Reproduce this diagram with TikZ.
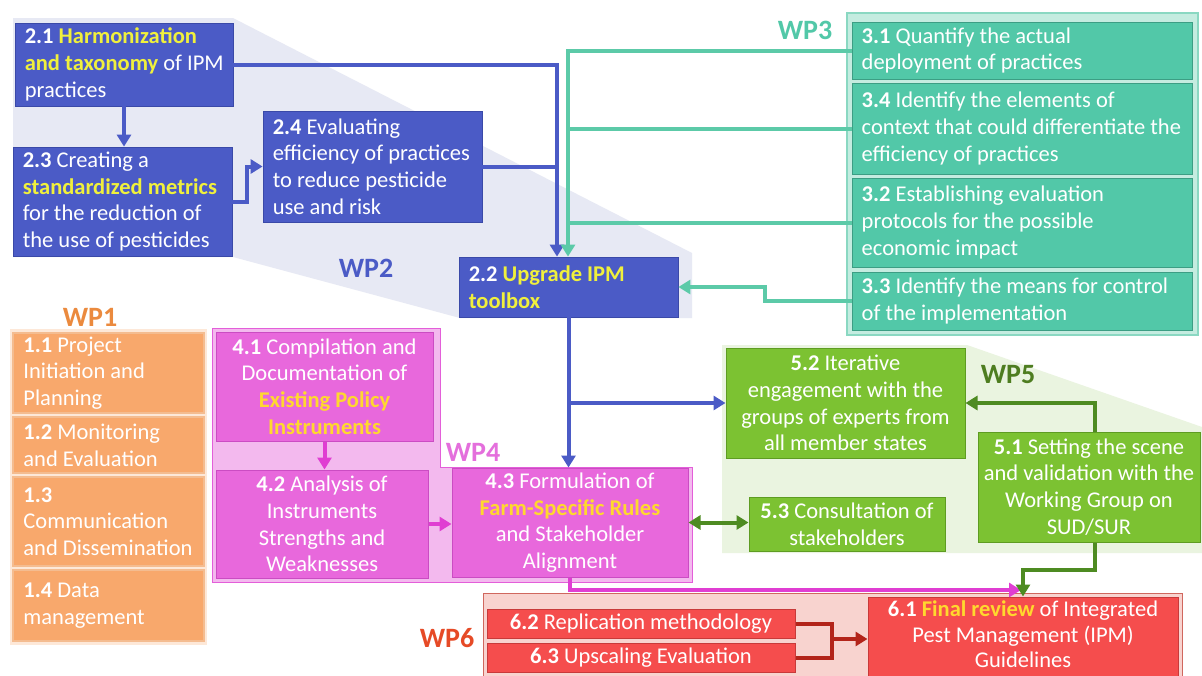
\documentclass[tikz,border=0pt]{standalone}
\usepackage{fontspec}
\setmainfont{Carlito}
\usetikzlibrary{arrows.meta,fit}
\definecolor{cBlue}{HTML}{4B5BC6}
\definecolor{cBlueD}{HTML}{3A49A8}
\definecolor{cBlueShade}{HTML}{E7E9F4}
\definecolor{cYel}{HTML}{F0F03C}
\definecolor{cYelO}{HTML}{FFD82E}
\definecolor{cTeal}{HTML}{52C8A8}
\definecolor{cTealD}{HTML}{3C9E84}
\definecolor{cTealL}{HTML}{C4ECE0}
\definecolor{cTealB}{HTML}{8AD8C2}
\definecolor{cTealLine}{HTML}{5CCAA8}
\definecolor{cOr}{HTML}{F8A86C}
\definecolor{cOrB}{HTML}{F4BC90}
\definecolor{cOrL}{HTML}{FDE8D8}
\definecolor{cOrT}{HTML}{EB8A3E}
\definecolor{cMag}{HTML}{E868DC}
\definecolor{cMagD}{HTML}{CB4CC3}
\definecolor{cMagL}{HTML}{F3B9EE}
\definecolor{cMagB}{HTML}{E35ED9}
\definecolor{cMagLine}{HTML}{E03ED2}
\definecolor{cMagT}{HTML}{E46FDC}
\definecolor{cGr}{HTML}{7CC232}
\definecolor{cGrD}{HTML}{5E9C22}
\definecolor{cGrL}{HTML}{EAF4E0}
\definecolor{cDG}{HTML}{4E8B22}
\definecolor{cWPfive}{HTML}{4E7D20}
\definecolor{cRed}{HTML}{F54D4D}
\definecolor{cRedD}{HTML}{C83A3A}
\definecolor{cRedL}{HTML}{F8D3CF}
\definecolor{cRedB}{HTML}{D0675E}
\definecolor{cDR}{HTML}{B3241A}
\definecolor{cWPsix}{HTML}{E64A26}
\newcommand\hly[1]{\textbf{\color{cYel}#1}}
\newcommand\hlo[1]{\textbf{\color{cYelO}#1}}
\begin{document}
\begin{tikzpicture}[x=1pt,y=-1pt,
  bluebox/.style={fill=cBlue, draw=cBlueD, line width=0.8pt},
  tealbox/.style={fill=cTeal, draw=cTealD, line width=1pt},
  orbox/.style={fill=cOr, draw=cOrB, line width=1.5pt},
  magbox/.style={fill=cMag, draw=cMagD, line width=1pt},
  grbox/.style={fill=cGr, draw=cGrD, line width=1pt},
  redbox/.style={fill=cRed, draw=cRedD, line width=1pt},
  txt/.style={text=white, font=\fontsize{22.5}{26.7}\selectfont, inner sep=0pt},
  ltxt/.style={txt, anchor=west, align=left},
  ctxt/.style={txt, align=center},
  wp/.style={font=\fontsize{28}{30}\selectfont\bfseries, inner sep=0pt},
  conn/.style={line width=4pt},
  arr/.style={-{Triangle[width=14pt,length=12pt]}},
  darr/.style={{Triangle[width=14pt,length=12pt]}-{Triangle[width=14pt,length=12pt]}}
]
\useasboundingbox[fill=white] (0,0) rectangle (1202,675);

% ---------- background regions ----------
\fill[cBlueShade] (13,18) -- (233,18) -- (692,253) -- (692,318) -- (460,318) -- (233,257) -- (13,257) -- cycle;
\filldraw[fill=cTealL, draw=cTealB, line width=1.2pt] (847,13) rectangle (1198,335);
\fill[cOrL] (10,329) rectangle (207,645);
\filldraw[fill=cMagL, draw=cMagB, line width=1pt] (212,328) -- (440,328) -- (440,467) -- (692,467) -- (692,582) -- (212,582) -- cycle;
\fill[cGrL] (722,345) -- (967,345) -- (1202,427) -- (1202,553) -- (722,553) -- cycle;
\filldraw[fill=cRedL, draw=cRedB, line width=1pt] (483,593) rectangle (1182,680);

% ---------- WP labels ----------
\node[wp, text=cBlue] (wp2) at (366,268) {WP2};
\node[wp, text=cTeal] (wp3) at (805,30) {WP3};
\node[wp, text=cOrT] (wp1) at (90,317) {WP1};
\node[wp, text=cMagT] (wp4) at (473,452) {WP4};
\node[wp, text=cWPfive] (wp5) at (1008,375) {WP5};
\node[wp, text=cWPsix] (wp6) at (447,638) {WP6};

% ---------- WP2 ----------
\node[bluebox, fit={(15,23) (233,106)}, inner sep=0pt] (n21) {};
\node[ltxt] at ([xshift=10pt]n21.west) {\textbf{2.1} \hly{Harmonization}\\\hly{and taxonomy} of IPM\\practices};
\node[bluebox, fit={(13,147) (232,256)}, inner sep=0pt] (n23) {};
\node[ltxt] at ([xshift=10pt]n23.west) {\textbf{2.3} Creating a\\\hly{standardized metrics}\\for the reduction of\\the use of pesticides};
\node[bluebox, fit={(263,111) (482,222)}, inner sep=0pt] (n24) {};
\node[ltxt] at ([xshift=10pt]n24.west) {\textbf{2.4} Evaluating\\efficiency of practices\\to reduce pesticide\\use and risk};
\node[bluebox, fit={(459,257) (678,317)}, inner sep=0pt] (n22) {};
\node[ltxt] at ([xshift=10pt]n22.west) {\textbf{2.2} \hly{Upgrade IPM}\\\hly{toolbox}};

% ---------- WP3 ----------
\node[tealbox, fit={(852,22) (1192,79)}, inner sep=0pt] (n31) {};
\node[ltxt] at ([xshift=10pt]n31.west) {\textbf{3.1} Quantify the actual\\deployment of practices};
\node[tealbox, fit={(852,83) (1192,174)}, inner sep=0pt] (n34) {};
\node[ltxt] at ([xshift=10pt]n34.west) {\textbf{3.4} Identify the elements of\\context that could differentiate the\\efficiency of practices};
\node[tealbox, fit={(852,178) (1192,267)}, inner sep=0pt] (n32) {};
\node[ltxt] at ([xshift=10pt]n32.west) {\textbf{3.2} Establishing evaluation\\protocols for the possible\\economic impact};
\node[tealbox, fit={(852,272) (1192,330)}, inner sep=0pt] (n33) {};
\node[ltxt] at ([xshift=10pt]n33.west) {\textbf{3.3} Identify the means for control\\of the implementation};

% ---------- WP1 ----------
\node[orbox, fit={(13,333) (204,413)}, inner sep=0pt] (n11) {};
\node[ltxt] at ([xshift=11pt]n11.west) {\textbf{1.1} Project\\Initiation and\\Planning};
\node[orbox, fit={(13,417) (204,473)}, inner sep=0pt] (n12) {};
\node[ltxt] at ([xshift=11pt]n12.west) {\textbf{1.2} Monitoring\\and Evaluation};
\node[orbox, fit={(13,477) (204,566)}, inner sep=0pt] (n13) {};
\node[ltxt] at ([xshift=11pt]n13.west) {\textbf{1.3}\\Communication\\and Dissemination};
\node[orbox, fit={(13,570) (204,641)}, inner sep=0pt] (n14) {};
\node[ltxt] at ([xshift=11pt]n14.west) {\textbf{1.4} Data\\management};

% ---------- WP4 ----------
\node[magbox, fit={(216,332) (433,441)}, inner sep=0pt] (n41) {};
\node[ctxt] at (n41.center) {\textbf{4.1} Compilation and\\Documentation of\\\hlo{Existing Policy}\\\hlo{Instruments}};
\node[magbox, fit={(216,470) (428,578)}, inner sep=0pt] (n42) {};
\node[ctxt] at (n42.center) {\textbf{4.2} Analysis of\\Instruments\\Strengths and\\Weaknesses};
\node[magbox, fit={(452,468) (688,577)}, inner sep=0pt] (n43) {};
\node[ctxt] at (n43.center) {\textbf{4.3} Formulation of\\\hlo{Farm-Specific Rules}\\and Stakeholder\\Alignment};

% ---------- WP5 ----------
\node[grbox, fit={(726,348) (965,458)}, inner sep=0pt] (n52) {};
\node[ctxt] at (n52.center) {\textbf{5.2} Iterative\\engagement with the\\groups of experts from\\all member states};
\node[grbox, fit={(749,497) (945,551)}, inner sep=0pt] (n53) {};
\node[ctxt] at (n53.center) {\textbf{5.3} Consultation of\\stakeholders};
\node[grbox, fit={(978,432) (1200,542)}, inner sep=0pt] (n51) {};
\node[ctxt] at (n51.center) {\textbf{5.1} Setting the scene\\and validation with the\\Working Group on\\SUD/SUR};

% ---------- WP6 ----------
\node[redbox, fit={(487,609) (795,638)}, inner sep=0pt] (n62) {};
\node[ctxt] at (n62.center) {\textbf{6.2} Replication methodology};
\node[redbox, fit={(487,643) (795,672)}, inner sep=0pt] (n63) {};
\node[ctxt] at (n63.center) {\textbf{6.3} Upscaling Evaluation};
\node[redbox, fit={(868,597) (1178,678)}, inner sep=0pt] (n61) {};
\node[ctxt, font=\fontsize{22.5}{25.5}\selectfont] at ([yshift=3pt]n61.center) {\textbf{6.1} \hlo{Final review} of Integrated\\Pest Management (IPM)\\Guidelines};

% ---------- helper coordinates ----------
\coordinate (busB) at (557,0);
\coordinate (busG) at (568,0);
\coordinate (s33) at (765,0);
\coordinate (v51) at (1095,0);
\coordinate (k51) at (0,570);
\coordinate (j61) at (1021,590);
\coordinate (j6) at (832,639);

% ---------- connectors ----------
% WP2 (blue)
\draw[conn, cBlue, arr] (n21.south) -- (n21.south |- n23.north);
\draw[conn, cBlue, arr] (n23.east) -- ++(15,0) |- (n24.west);
\draw[conn, cBlue, arr] (n21.east) -| (n22.north -| busB);
\draw[conn, cBlue] (n24.east) -- (n24.east -| busB);
% WP3 (teal)
\draw[conn, cTealLine, arr] (n31.west) -| (n22.north -| busG);
\draw[conn, cTealLine] (n34.west) -- (n34.west -| busG);
\draw[conn, cTealLine] (n32.west) -- (n32.west -| busG);
\draw[conn, cTealLine, arr] (n33.west) -- (n33.west -| s33) -- (n22.east -| s33) -- (n22.east);
% 2.2 to WP4 / WP5
\draw[conn, cBlue, arr] (n22.south) -- (n22.south |- n43.north);
\draw[conn, cBlue, arr] (n52.west -| n22.south) -- (n52.west);
% WP4 (magenta)
\draw[conn, cMagLine, arr] (n41.south) -- (n41.south |- n42.north);
\draw[conn, cMagLine, arr] (n42.east) -- (n42.east -| n43.west);
\draw[conn, cMagLine, arr] (n43.south) |- (j61);
% WP5 (dark green)
\draw[conn, cDG, darr] (n43.east) -- (n43.east -| n53.west);
\draw[conn, cDG, arr] (n51.north -| v51) |- (n52.east);
\draw[conn, cDG, arr] (n51.south -| v51) |- (n61.north |- k51) -- (n61.north);
% WP6 (dark red)
\draw[conn, cDR] (n62.east) -| (j6);
\draw[conn, cDR] (n63.east) -| (j6);
\draw[conn, cDR, arr] (j6) -- (j6 -| n61.west);
\end{tikzpicture}
\end{document}
